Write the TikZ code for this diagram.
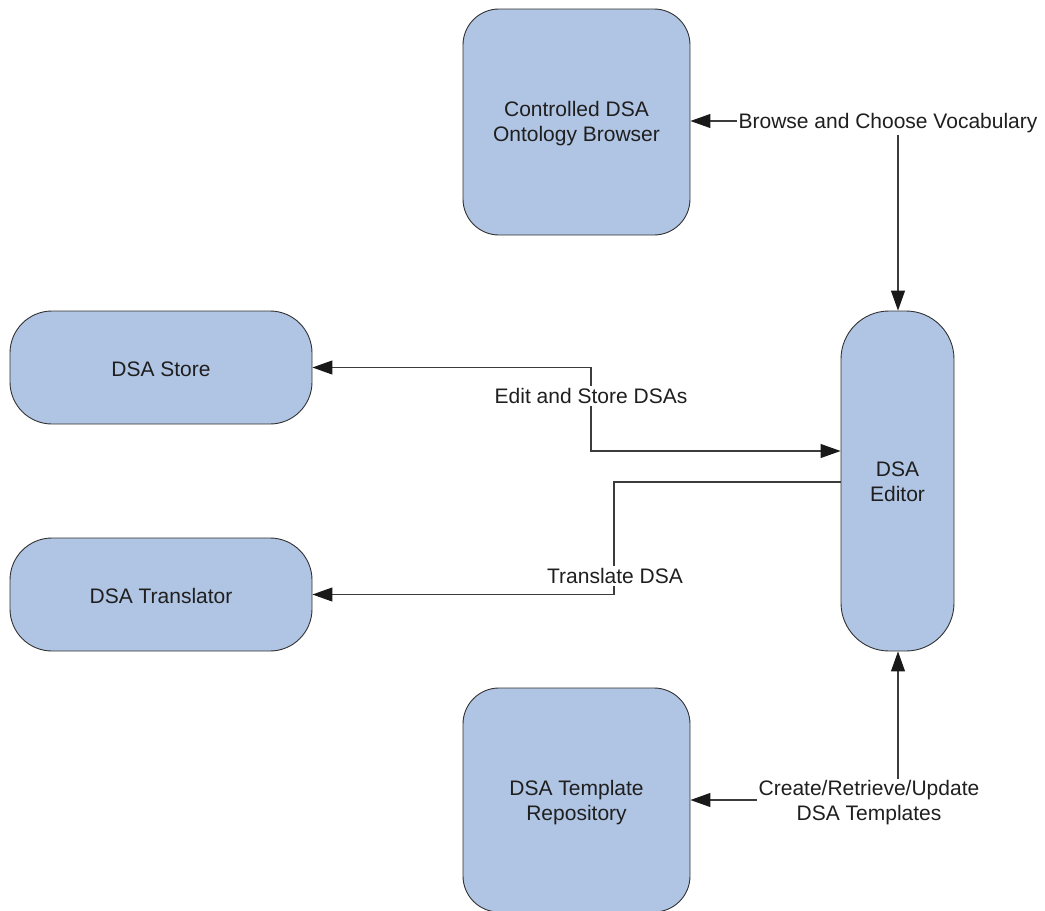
\documentclass[tikz,border=0pt]{standalone}
\usepackage{fontspec}
\setmainfont{Liberation Sans}
\usetikzlibrary{arrows.meta}
\definecolor{boxfill}{RGB}{176,196,227}
\definecolor{boxline}{RGB}{50,50,50}
\definecolor{wire}{RGB}{60,60,60}
\tikzset{
  box/.style={draw=boxline, line width=0.9pt, fill=boxfill, align=center,
    inner sep=0pt, font=\fontsize{21}{25}\selectfont, text=black!88},
  lbl/.style={fill=white, inner sep=2pt, align=center,
    font=\fontsize{21}{25}\selectfont, text=black!88},
  wirestyle/.style={draw=wire, line width=1.1pt},
  tip/.tip={Triangle[length=20pt,width=14pt,color=black!90]}
}
\begin{document}
\begin{tikzpicture}[x=1pt,y=-1pt]
\useasboundingbox (0,0) rectangle (1045,911);

% components
\node[box, minimum width=227pt, minimum height=226pt, rounded corners=36pt]
  (onto) at (576.5,122) {};
\node[box, minimum width=302pt, minimum height=113pt, rounded corners=42pt]
  (store) at (161,367.5) {};
\node[box, minimum width=302pt, minimum height=113pt, rounded corners=42pt]
  (trans) at (161,594.5) {};
\node[box, minimum width=113pt, minimum height=340pt, rounded corners=48pt]
  (editor) at (897.5,481) {};
\node[box, minimum width=227pt, minimum height=224pt, rounded corners=36pt]
  (tmpl) at (576.5,800) {};

% component captions
\node[lbl, fill=none] (ontot) at (576.5,124) {Controlled DSA\\Ontology Browser};
\node[lbl, fill=none] (storet) at (161,369) {DSA Store};
\node[lbl, fill=none] (transt) at (161,596) {DSA Translator};
\node[lbl, fill=none] (editort) at (897.5,482) {DSA\\Editor};
\node[lbl, fill=none] (tmplt) at (576.5,803) {DSA Template\\Repository};

% bend points
\coordinate (b1) at (898,121);
\coordinate (s1) at (591,367.5);
\coordinate (s2) at (591,451);
\coordinate (t1) at (614,482);
\coordinate (t2) at (614,594.5);
\coordinate (r1) at (898,800);

% connectors
\draw[wirestyle, tip-tip] (onto.east |- b1) -- (b1) -- (editor.north -| b1);
\draw[wirestyle, tip-tip] (store.east) -- (s1) -- (s2) -- (s2 -| editor.west);
\draw[wirestyle, -tip] (t1 -| editor.west) -- (t1) -- (t2) -- (trans.east);
\draw[wirestyle, tip-tip] (tmpl.east |- r1) -- (r1) -- (editor.south -| r1);

% connector labels
\node[lbl] (l1) at (888,123) {Browse and Choose Vocabulary};
\node[lbl] (l2) at (591,396) {Edit and Store DSAs};
\node[lbl] (l3) at (615,576) {Translate DSA};
\node[lbl] (l4) at (869,803) {Create/Retrieve/Update\\DSA Templates};
\end{tikzpicture}
\end{document}
